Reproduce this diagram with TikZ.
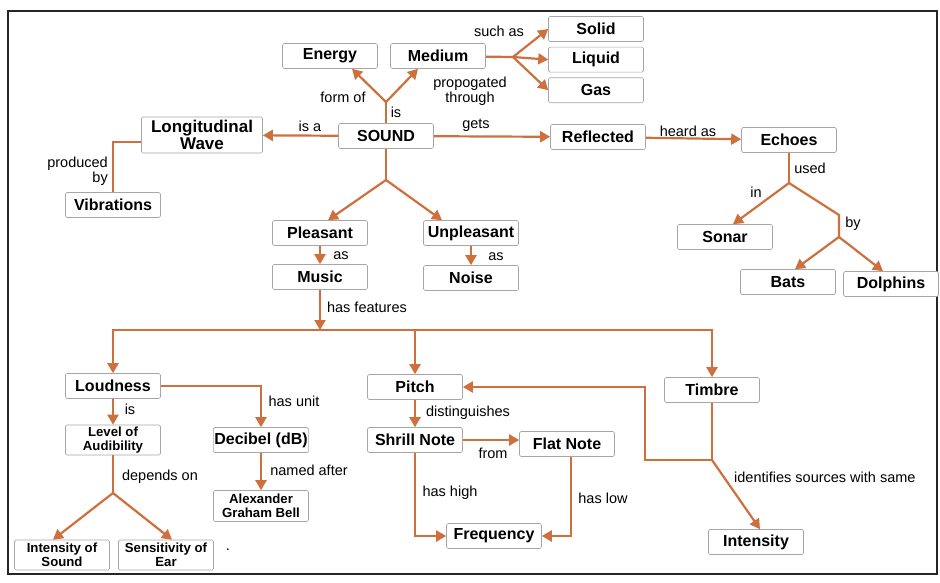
\documentclass[tikz,border=0pt]{standalone}
\usepackage{fontspec}
\setmainfont{Liberation Sans}
\usepackage{xcolor}
\usetikzlibrary{positioning,arrows.meta}
\definecolor{linkbrown}{RGB}{206,112,62}

\begin{document}
\begin{tikzpicture}[x=1pt, y=-1pt, node distance = 5pt]
            \tikzstyle{concept} = [draw=black!35, rounded corners=1.5pt, line width=0.6pt, fill=white, minimum width=95pt, minimum height=25pt, inner sep=1pt, align=center, font=\fontsize{16}{17}\selectfont\bfseries]
            \tikzstyle{smallconcept} = [concept, font=\fontsize{13.2}{14}\selectfont\bfseries]
            \tikzstyle{tie} = [draw=linkbrown, line width=2.2pt]
            \tikzstyle{link} = [tie, -{Triangle[width=11pt,length=10pt]}]
            \tikzstyle{lbl} = [inner sep=1pt, align=center, font=\fontsize{14.5}{15.5}\selectfont]
            \useasboundingbox (0,0) rectangle (940,582);
            \draw [line width=1.6pt, black!85] (8,11) rectangle (937,574);

            \node [concept] (sound) at (386,136) {SOUND};
            \node [concept] (energy) at (330,56) {Energy};
            \node [concept] (medium) at (438,56) {Medium};
            \node [concept] (solid) at (596,29) {Solid};
            \node [concept, below = of solid] (liquid) {Liquid};
            \node [concept, below = of liquid] (gas) {Gas};
            \node [concept, minimum width=121pt, minimum height=36pt, font=\fontsize{17}{17}\selectfont\bfseries] (longwave) at (202,135) {Longitudinal\\Wave};
            \node [concept] (vibrations) at (113,205) {Vibrations};
            \node [concept] (reflected) at (598,137) {Reflected};
            \node [concept] (echoes) at (789,140) {Echoes};
            \node [concept] (sonar) at (725,237) {Sonar};
            \node [concept] (bats) at (788,282) {Bats};
            \node [concept] (dolphins) at (891,284) {Dolphins};

            \node [concept] (pleasant) at (320,233) {Pleasant};
            \node [concept] (music) at (320,277) {Music};
            \node [concept] (unpleasant) at (471,233) {Unpleasant};
            \node [concept] (noise) at (471,278) {Noise};

            \node [concept] (loudness) at (113,386) {Loudness};
            \node [smallconcept, minimum height=30pt] (level) at (113,440) {Level of\\Audibility};
            \node [concept] (decibel) at (261,440) {Decibel (dB)};
            \node [smallconcept, minimum height=31pt] (bell) at (261,506) {Alexander\\Graham Bell};
            \node [smallconcept, minimum height=30pt] (intsound) at (62,555) {Intensity of\\Sound};
            \node [smallconcept, minimum height=30pt] (sensitivity) at (166,555) {Sensitivity of\\Ear};
            \node [concept] (pitch) at (415,387) {Pitch};
            \node [concept] (shrill) at (415,440) {Shrill Note};
            \node [concept] (flat) at (567,444) {Flat Note};
            \node [concept] (frequency) at (494,536) {Frequency};
            \node [concept] (timbre) at (712,390) {Timbre};
            \node [concept] (intensity) at (756,542) {Intensity};

            \coordinate (j1) at (386,102);
            \coordinate (j2) at (513,57);
            \coordinate (j3) at (386,180);
            \coordinate (bar) at (320,330);
            \coordinate (j4) at (113,493);
            \coordinate (j5) at (712,460);
            \coordinate (bend) at (645,460);
            \coordinate (j6) at (789,183);
            \coordinate (j7) at (839,215);
            \coordinate (j8) at (839,237);

            \draw [tie] (sound) -- (j1);
            \draw [link] (j1) -- ([xshift=22pt]energy.south);
            \draw [link] (j1) -- ([xshift=-20pt]medium.south);
            \draw [tie] (medium) -- (j2);
            \foreach \s in {solid, liquid, gas}
                \draw [link] (j2) -- (\s.west);
            \draw [link] (sound) -- (longwave);
            \draw [link] (sound) -- (reflected);
            \draw [link] (reflected) -- (echoes);
            \draw [tie] ([yshift=-7pt]longwave.west) -| (vibrations);

            \draw [tie] (sound) -- (j3);
            \draw [link] (j3) -- ([xshift=8pt]pleasant.north);
            \draw [link] (j3) -- ([xshift=-29pt]unpleasant.north);
            \draw [link] (pleasant) -- (music);
            \draw [link] (unpleasant) -- (noise);
            \draw [link] (music) -- (bar);
            \foreach \f in {loudness, pitch, timbre}
                \draw [link] (bar) -| (\f);

            \draw [tie] (echoes) -- (j6);
            \draw [link] (j6) -- ([xshift=8pt]sonar.north);
            \draw [tie] (j6) -- (j7) -- (j8);
            \draw [link] (j8) -- ([xshift=7pt]bats.north);
            \draw [link] (j8) -- ([xshift=-8pt]dolphins.north);

            \draw [link] (loudness) -- (level);
            \draw [link] (loudness) -| (decibel);
            \draw [tie] (level) -- (j4);
            \draw [link] (j4) -- ([xshift=-9pt]intsound.north);
            \draw [link] (j4) -- ([xshift=6pt]sensitivity.north);
            \draw [link] (decibel) -- (bell);

            \draw [link] (pitch) -- (shrill);
            \draw [link] (shrill.east) -- (flat.west |- shrill.east);
            \draw [link] (shrill) |- (frequency);
            \draw [link] ([xshift=4pt]flat.south) |- (frequency);
            \draw [tie] (timbre) -- (j5);
            \draw [link] (j5) -- (bend) |- (pitch);
            \draw [link] (j5) -- ([xshift=4pt]intensity.north);

            \node [lbl] (l1) at (343,97) {form of};
            \node [lbl] (l2) at (396,112) {is};
            \node [lbl] (l3) at (470,91) {propogated\\through};
            \node [lbl] (l4) at (499,31) {such as};
            \node [lbl] (l5) at (310,126) {is a};
            \node [lbl] (l6) at (476,125) {gets};
            \node [lbl] (l7) at (688,131) {heard as};
            \node [lbl, align=right, anchor=east] (l8) at (109,171) {produced\\by};
            \node [lbl] (l9) at (810,168) {used};
            \node [lbl] (l10) at (756,192) {in};
            \node [lbl] (l11) at (853,224) {by};
            \node [lbl] (l12) at (341,256) {as};
            \node [lbl] (l13) at (496,257) {as};
            \node [lbl] (l14) at (367,307) {has features};
            \node [lbl] (l15) at (130,409) {is};
            \node [lbl] (l16) at (294,401) {has unit};
            \node [lbl] (l17) at (160,477) {depends on};
            \node [lbl] (l18) at (309,470) {named after};
            \node [lbl] (l19) at (468,413) {distinguishes};
            \node [lbl] (l20) at (493,453) {from};
            \node [lbl] (l21) at (450,493) {has high};
            \node [lbl] (l22) at (603,498) {has low};
            \node [lbl, anchor=west] (l23) at (733,477) {identifies sources with same};
            \node [lbl] (l24) at (228,550) {.};
        \end{tikzpicture}
\end{document}
